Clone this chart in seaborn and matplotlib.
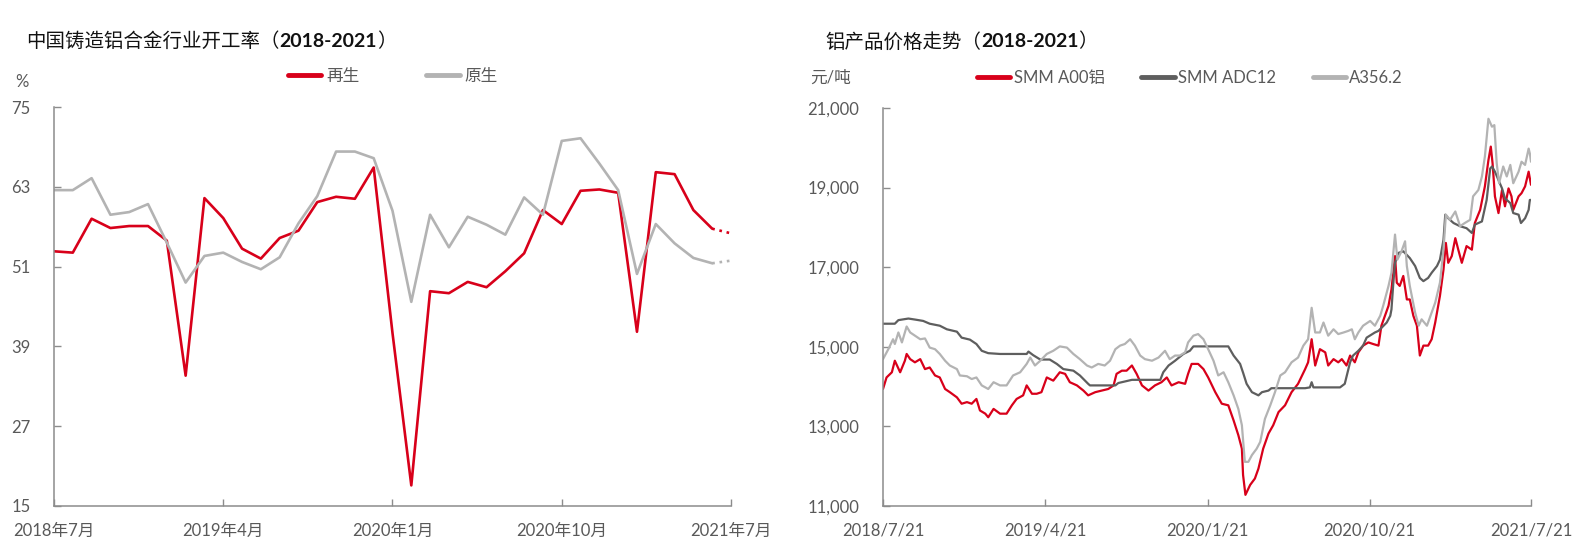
import numpy as np
import pandas as pd
import seaborn as sns
import matplotlib.pyplot as plt
from matplotlib.lines import Line2D
from matplotlib.ticker import FuncFormatter

# ---- left chart: operating rate (%), monthly 2018-07 .. 2021-07
months = pd.period_range("2018-07", "2021-07", freq="M")
month_ticks = ["2018-07", "2019-04", "2020-01", "2020-10", "2021-07"]
month_labels = ["2018年7月", "2019年4月", "2020年1月", "2020年10月", "2021年7月"]
recycled = [53.3, 53.1, 58.2, 56.8, 57.1, 57.1, 54.9, 34.6, 61.3, 58.3,
            53.7, 52.2, 55.3, 56.4, 60.7, 61.5, 61.2, 65.9, 41.0, 18.1,
            47.3, 47.0, 48.7, 47.9, 50.3, 53.0, 59.5, 57.4, 62.4, 62.6,
            62.1, 41.2, 65.2, 64.9, 59.5, 56.7, 56.0]
primary = [62.5, 62.5, 64.3, 58.8, 59.2, 60.4, 54.6, 48.6, 52.6, 53.1,
           51.7, 50.6, 52.4, 57.5, 61.6, 68.3, 68.3, 67.3, 59.4, 45.7,
           58.8, 53.9, 58.5, 57.3, 55.8, 61.4, 58.8, 69.9, 70.3, 66.5,
           62.5, 49.9, 57.4, 54.5, 52.3, 51.5, 51.9]

# ---- right chart: prices (yuan/t), day offsets from 2018-07-21
start_date = pd.Timestamp("2018-07-21")
date_labels = ["2018/7/21", "2019/4/21", "2020/1/21", "2020/10/21", "2021/7/21"]

a00_days = [0, 6, 15, 20, 29, 37, 40, 46, 54, 63,
            71, 79, 88, 96, 105, 113, 125, 133, 142, 150,
            158, 164, 173, 178, 187, 198, 209, 218, 226, 237,
            243, 252, 260, 268, 277, 288, 299, 308, 316, 328,
            339, 347, 359, 370, 381, 390, 395, 404, 412, 421,
            429, 438, 449, 460, 471, 480, 488, 500, 511, 516,
            522, 533, 542, 550, 562, 573, 584, 593, 601, 607,
            609, 613, 621, 629, 635, 643, 652, 660, 669, 680,
            691, 702, 714, 719, 725, 731, 739, 748, 753, 762,
            770, 776, 784, 790, 798, 804, 812, 821, 829, 838,
            843, 849, 855, 860, 866, 869, 874, 880, 886, 891,
            897, 903, 908, 914, 922, 928, 934, 942, 948, 952,
            956, 962, 968, 973, 979, 987, 996, 1001, 1010, 1018,
            1024, 1028, 1031, 1035, 1041, 1047, 1052, 1058, 1063, 1066,
            1075, 1080, 1086, 1092, 1096]
a00_price = [13940, 14230, 14360, 14650, 14360, 14650, 14820, 14690, 14610, 14690,
             14440, 14480, 14280, 14230, 13940, 13860, 13730, 13570, 13610, 13570,
             13690, 13400, 13320, 13230, 13440, 13320, 13320, 13530, 13690, 13780,
             14030, 13820, 13820, 13860, 14230, 14150, 14360, 14320, 14110, 14030,
             13900, 13780, 13860, 13900, 13940, 14030, 14320, 14400, 14400, 14530,
             14320, 14030, 13900, 14030, 14110, 14230, 14030, 14110, 14070, 14320,
             14570, 14570, 14440, 14230, 13860, 13570, 13530, 13150, 12780, 12440,
             11780, 11280, 11530, 11690, 11940, 12440, 12820, 13030, 13360, 13530,
             13860, 14070, 14440, 14610, 15190, 14530, 14940, 14860, 14530, 14690,
             14610, 14690, 14530, 14780, 14610, 14860, 15030, 15110, 15070, 15030,
             15530, 15780, 16030, 16440, 17280, 16610, 16530, 16780, 16190, 16190,
             15780, 15530, 14780, 15030, 15030, 15190, 15610, 16280, 16940, 17610,
             17110, 17280, 17730, 17440, 17110, 17530, 17440, 18110, 18440, 19030,
             19690, 20030, 19610, 18780, 18360, 18940, 18530, 18980, 18780, 18440,
             18780, 18860, 19030, 19400, 19070]

adc12_days = [0, 20, 26, 43, 56, 68, 79, 96, 108, 125,
              133, 147, 158, 167, 178, 198, 243, 246, 254, 266,
              282, 294, 305, 322, 333, 347, 350, 393, 398, 421,
              469, 474, 483, 494, 508, 519, 525, 584, 593, 604,
              609, 615, 624, 635, 641, 652, 657, 714, 722, 725,
              728, 773, 781, 790, 795, 804, 812, 818, 832, 838,
              852, 858, 860, 863, 866, 872, 880, 891, 900, 908,
              914, 922, 928, 937, 942, 948, 951, 956, 965, 976,
              987, 996, 1001, 1013, 1021, 1027, 1030, 1035, 1041, 1047,
              1052, 1061, 1066, 1075, 1079, 1086, 1092, 1094, 1096]
adc12_price = [15580, 15580, 15670, 15710, 15680, 15650, 15580, 15530, 15440, 15380,
               15230, 15180, 15070, 14900, 14840, 14820, 14820, 14880, 14790, 14680,
               14680, 14570, 14440, 14400, 14280, 14070, 14030, 14030, 14090, 14170,
               14170, 14360, 14530, 14650, 14820, 14900, 15010, 15010, 14780, 14570,
               14350, 14070, 13860, 13780, 13860, 13900, 13960, 13960, 13980, 14110,
               13980, 13980, 14070, 14610, 14780, 14900, 15030, 15230, 15360, 15400,
               15610, 15780, 15940, 16570, 17110, 17360, 17400, 17230, 17030, 16730,
               16650, 16730, 16860, 17030, 17190, 17690, 18320, 18230, 18110, 18030,
               17980, 17860, 18070, 18150, 18690, 19480, 19530, 19400, 19190, 18980,
               18730, 18610, 18360, 18320, 18110, 18230, 18440, 18690, 18690]

a356_days = [0, 9, 17, 20, 26, 32, 40, 46, 54, 63,
             71, 79, 88, 96, 105, 113, 125, 130, 142, 150,
             158, 167, 178, 187, 198, 209, 220, 232, 243, 249,
             257, 266, 277, 288, 299, 311, 322, 333, 345, 353,
             364, 375, 384, 393, 401, 409, 418, 426, 435, 443,
             455, 466, 477, 485, 494, 502, 511, 516, 525, 533,
             542, 550, 559, 567, 576, 584, 593, 601, 607, 612,
             618, 624, 632, 638, 646, 655, 663, 672, 680, 691,
             702, 711, 719, 725, 731, 739, 745, 753, 762, 770,
             779, 787, 793, 798, 804, 812, 824, 832, 841, 846,
             855, 860, 866, 870, 877, 883, 886, 891, 900, 906,
             911, 920, 928, 934, 942, 948, 952, 959, 968, 976,
             984, 993, 998, 1007, 1013, 1018, 1024, 1030, 1034, 1038,
             1042, 1049, 1055, 1061, 1066, 1075, 1080, 1086, 1092, 1094,
             1096]
a356_price = [14690, 14940, 15190, 15070, 15360, 15110, 15510, 15360, 15280, 15190,
              15210, 14980, 14940, 14820, 14650, 14530, 14440, 14280, 14260, 14190,
              14230, 14030, 13940, 14110, 14030, 14030, 14280, 14360, 14570, 14730,
              14530, 14650, 14820, 14900, 15010, 14980, 14820, 14690, 14530, 14480,
              14570, 14530, 14650, 14940, 15030, 15070, 15190, 15030, 14780, 14690,
              14650, 14730, 14900, 14690, 14780, 14780, 14860, 15110, 15280, 15320,
              15190, 14940, 14650, 14280, 14360, 14110, 13780, 13440, 13030, 12110,
              12110, 12280, 12440, 12610, 13190, 13530, 13860, 14280, 14360, 14610,
              14730, 15030, 15190, 15980, 15360, 15360, 15610, 15280, 15440, 15320,
              15360, 15400, 15440, 15190, 15360, 15530, 15650, 15530, 15780, 16030,
              16530, 16860, 17820, 17190, 17400, 17650, 17030, 16530, 15860, 15530,
              15690, 15530, 15860, 16110, 16610, 17440, 18320, 18190, 18400, 18030,
              18110, 18190, 18780, 18940, 19280, 19780, 20730, 20530, 20570, 19610,
              19110, 19530, 19280, 19570, 19110, 19400, 19650, 19570, 19980, 19860,
              19650]

RED = "#D8001A"
LIGHT = "#B3B3B3"
DARK = "#5E5E5E"
AXC = "#8C8C8C"
TXT = "#595959"

sns.set_theme(style="ticks")
plt.rcParams["font.family"] = ["Lato", "Noto Sans CJK SC"]
plt.rcParams["axes.unicode_minus"] = False

W, H = 1591, 556
fig = plt.figure(figsize=(W / 100, H / 100), dpi=100)
ax1 = fig.add_axes([54 / W, 50 / H, 677 / W, 399 / H])
ax2 = fig.add_axes([883 / W, 50 / H, 648 / W, 398 / H])

# left chart
rate = pd.DataFrame({"m": np.arange(len(months)), "再生": recycled, "原生": primary})
rate = rate.melt("m", var_name="kind", value_name="rate")
pal1 = {"再生": RED, "原生": LIGHT}
sns.lineplot(data=rate[rate.m <= 35], x="m", y="rate", hue="kind", hue_order=["再生", "原生"],
             palette=pal1, lw=1.9, legend=False, ax=ax1)
sns.lineplot(data=rate[rate.m >= 35], x="m", y="rate", hue="kind", hue_order=["再生", "原生"],
             palette=pal1, lw=1.9, linestyle=(0, (1, 1.8)), legend=False, ax=ax1)
ax1.set_xlim(0, len(months) - 1)
ax1.set_ylim(15, 75)
ax1.set_yticks(np.arange(15, 76, 12))
ax1.set_xticks([months.get_loc(pd.Period(m, "M")) for m in month_ticks])
ax1.set_xticklabels(month_labels)

# right chart
parts = []
for name, d, p in [("SMM A00铝", a00_days, a00_price),
                   ("SMM ADC12", adc12_days, adc12_price),
                   ("A356.2", a356_days, a356_price)]:
    parts.append(pd.DataFrame({"date": start_date + pd.to_timedelta(d, unit="D"),
                               "price": p, "series": name}))
price = pd.concat(parts, ignore_index=True)
pal2 = {"SMM A00铝": RED, "SMM ADC12": DARK, "A356.2": LIGHT}
sns.lineplot(data=price, x="date", y="price", hue="series", palette=pal2,
             hue_order=list(pal2), lw=1.6, legend=False, ax=ax2)
tick_dates = pd.to_datetime(date_labels, format="%Y/%m/%d")
ax2.set_xlim(tick_dates[0], tick_dates[-1])
ax2.set_xticks(tick_dates)
ax2.set_xticklabels(date_labels)
ax2.set_ylim(11000, 21000)
ax2.set_yticks(np.arange(11000, 21001, 2000))
ax2.yaxis.set_major_formatter(FuncFormatter(lambda v, p: f"{v:,.0f}"))

for ax in (ax1, ax2):
    ax.set_xlabel("")
    ax.set_ylabel("")
    ax.spines[["top", "right"]].set_visible(False)
    for s in ("left", "bottom"):
        ax.spines[s].set_color(AXC)
        ax.spines[s].set_linewidth(1.1)
    ax.tick_params(direction="in", length=5, width=1, color=AXC,
                   labelcolor=TXT, labelsize=12)
    ax.tick_params(axis="y", pad=17)
    ax.tick_params(axis="x", pad=12)

# legends
h1 = [Line2D([], [], color=RED, lw=3.5), Line2D([], [], color=LIGHT, lw=3.5)]
fig.legend(h1, ["再生", "原生"], loc="center", bbox_to_anchor=(393 / W, 1 - 76 / H),
           ncol=2, frameon=False, fontsize=12, handlelength=2.0, handletextpad=0.3,
           columnspacing=4.0, labelcolor=TXT)
h2 = [Line2D([], [], color=c, lw=3.5) for c in pal2.values()]
fig.legend(h2, list(pal2), loc="center", bbox_to_anchor=(1190 / W, 1 - 78 / H),
           ncol=3, frameon=False, fontsize=12, handlelength=2.0, handletextpad=0.2,
           columnspacing=2.2, labelcolor=TXT)

# units
fig.text(22 / W, 1 - 82 / H, "%", ha="center", va="center", color=TXT, fontsize=12)
fig.text(810 / W, 1 - 78 / H, "元/吨", ha="left", va="center", color=TXT, fontsize=12)


# titles: regular text + bold years
def add_title(ax, x, head):
    t1 = fig.text(x, 1 - 41 / H, head + "（", ha="left", va="center", color="#111111", fontsize=14)
    t2 = ax.annotate("2018-2021", xy=(1, 0), xycoords=t1, ha="left", va="bottom",
                     fontsize=14, fontweight="bold", color="#111111", annotation_clip=False)
    ax.annotate("）", xy=(1, 0), xycoords=t2, ha="left", va="bottom",
                fontsize=14, color="#111111", annotation_clip=False)


add_title(ax1, 26 / W, "中国铸造铝合金行业开工率")
add_title(ax2, 825 / W, "铝产品价格走势")

fig.savefig("out.png", dpi=100)
